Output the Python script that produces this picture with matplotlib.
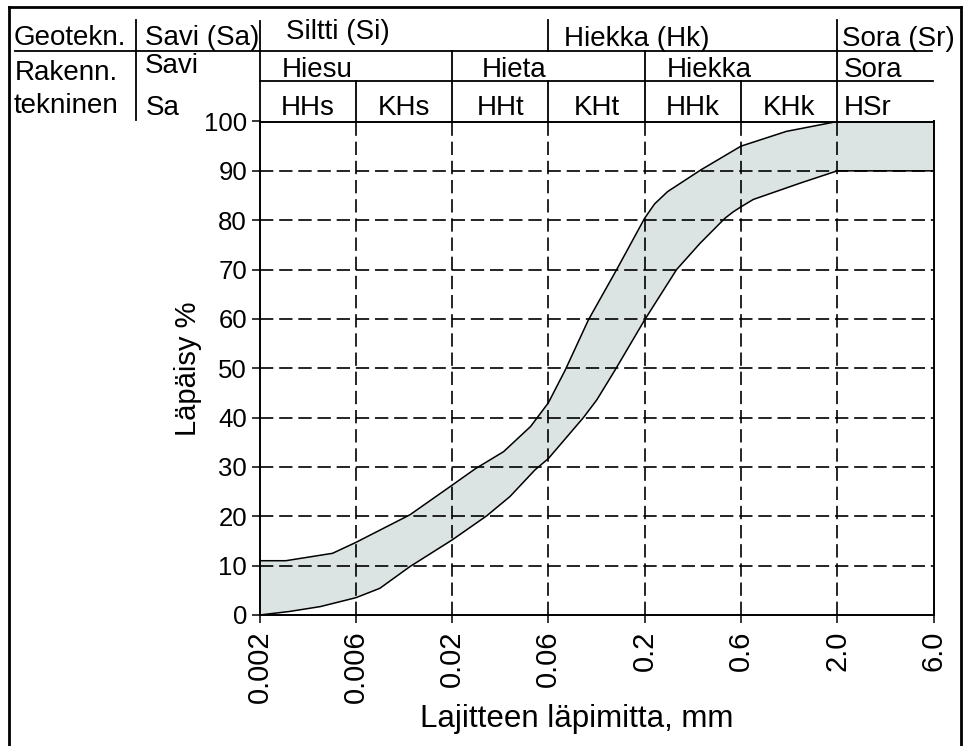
import numpy as np
import matplotlib
matplotlib.use("Agg")
import matplotlib.pyplot as plt
from matplotlib.lines import Line2D
from matplotlib.transforms import blended_transform_factory
from matplotlib.ticker import FixedLocator, NullLocator

plt.rcParams['font.family'] = ['Liberation Sans', 'DejaVu Sans']

# ---- data ----
tick_values = [0.002, 0.006, 0.02, 0.06, 0.2, 0.6, 2.0, 6.0]
tick_labels = ["0.002", "0.006", "0.02", "0.06", "0.2", "0.6", "2.0", "6.0"]
y_ticks = [0, 10, 20, 30, 40, 50, 60, 70, 80, 90, 100]

upper_d = [0.002, 0.0027, 0.0046, 0.006, 0.0118, 0.02, 0.026, 0.036, 0.049, 0.06,
           0.074, 0.099, 0.141, 0.2, 0.224, 0.26, 0.38, 0.6, 1.06, 2.0, 6.0]
upper_p = [11, 11, 12.5, 14.7, 20.3, 26.3, 29.6, 33.1, 38.2, 43,
           49.6, 59.8, 70, 80.4, 83.3, 85.8, 90.2, 95, 98, 100, 100]

lower_d = [0.002, 0.0028, 0.004, 0.006, 0.0081, 0.0118, 0.02, 0.0297, 0.0387, 0.0515,
           0.06, 0.093, 0.11, 0.138, 0.2, 0.288, 0.376, 0.5, 0.55, 0.6, 0.70, 1.256, 2.0, 6.0]
lower_p = [0, 0.7, 1.7, 3.5, 5.4, 9.8, 15.2, 20.1, 24, 29.4,
           31.7, 40, 43.6, 49.6, 59.8, 70, 75.3, 80.4, 81.7, 82.7, 84.2, 87.5, 90, 90]

geo_labels = ["Savi (Sa)", "Siltti (Si)", "Hiekka (Hk)", "Sora (Sr)"]
rak_labels = ["Savi", "Hiesu", "Hieta", "Hiekka", "Sora"]
sub_labels = ["HHs", "KHs", "HHt", "KHt", "HHk", "KHk", "HSr"]

# ---- scale: equally spaced sieve sizes ----
logt = np.log10(tick_values)
idx = np.arange(len(tick_values), dtype=float)

def fwd(d):
    d = np.asarray(d, dtype=float)
    return np.interp(np.log10(np.clip(d, 1e-12, None)), logt, idx)

def inv(i):
    return 10 ** np.interp(np.asarray(i, dtype=float), idx, logt)

W, H = 963, 746
fig = plt.figure(figsize=(W / 100, H / 100), dpi=100)
L, R, T, B = 259.5, 933.5, 121.5, 615
ax = fig.add_axes([L / W, 1 - B / H, (R - L) / W, (B - T) / H])
ax.set_xscale('function', functions=(fwd, inv))
ax.set_xlim(tick_values[0], tick_values[-1])
ax.set_ylim(0, 100)

poly_x = np.concatenate([upper_d, lower_d[::-1]])
poly_y = np.concatenate([upper_p, lower_p[::-1]])
ax.fill(poly_x, poly_y, facecolor='#dce3e3', edgecolor='none', zorder=1)
ax.plot(upper_d, upper_p, color='black', lw=1.1, zorder=3)
ax.plot(lower_d, lower_p, color='black', lw=1.1, zorder=3)
ax.plot([tick_values[-1], tick_values[-1]], [lower_p[-1], upper_p[-1]], color='black', lw=1.2, zorder=3)

ax.xaxis.set_major_locator(FixedLocator(tick_values))
ax.xaxis.set_minor_locator(NullLocator())
ax.set_xticklabels(tick_labels, rotation=90)
ax.set_yticks(y_ticks)
ax.tick_params(axis='both', direction='out', length=6, width=1.1, colors='black')
ax.tick_params(axis='y', pad=3, labelsize=18.5)
ax.tick_params(axis='x', pad=5, labelsize=21)

for v in tick_values[1:-1]:
    ax.axvline(v, color='black', lw=1.2, ls=(0, (8, 3.5)), zorder=2.5)
for v in y_ticks[1:-1]:
    ax.axhline(v, color='black', lw=1.2, ls=(0, (8, 3.5)), zorder=2.5)

for s in ax.spines.values():
    s.set_linewidth(1.4)

ax.set_xlabel("Lajitteen läpimitta, mm", fontsize=22.5)
ax.set_ylabel("Läpäisy %", fontsize=21)
ax.xaxis.set_label_coords(0.47, -0.18)
ax.yaxis.set_label_coords(-0.085, 0.5)

# ---- header table ----
def fy(ypx):
    return 1 - ypx / H

def fx(xpx):
    return xpx / W

bt = blended_transform_factory(ax.transData, fig.transFigure)
ft = fig.transFigure
lw_h = 1.3

def vline_data(d, y0, y1):
    fig.add_artist(Line2D([d, d], [fy(y0), fy(y1)], transform=bt, color='black', lw=lw_h))

# horizontal header lines
fig.add_artist(Line2D([fx(15), fx(932)], [fy(51), fy(51)], transform=ft, color='black', lw=lw_h))
fig.add_artist(Line2D([tick_values[0], inv(6.99)], [fy(81), fy(81)], transform=bt, color='black', lw=lw_h))
# vertical dividers
fig.add_artist(Line2D([fx(136), fx(136)], [fy(20), fy(120)], transform=ft, color='black', lw=lw_h))
vline_data(tick_values[0], 21, T)
vline_data(0.06, 20, 51)
vline_data(2.0, 20, T)
for d in [0.02, 0.2]:
    vline_data(d, 51, T)
for d in [0.006, 0.06, 0.6]:
    vline_data(d, 81, T)

fs_h = 20
# row 1
fig.text(fx(14), fy(45), "Geotekn.", fontsize=fs_h, va='baseline', ha='left')
fig.text(fx(145), fy(45), geo_labels[0], fontsize=fs_h, va='baseline', ha='left')
fig.text(fx(286), fy(39), geo_labels[1], fontsize=fs_h, va='baseline', ha='left')
fig.text(fx(564), fy(46), geo_labels[2], fontsize=fs_h, va='baseline', ha='left')
fig.text(fx(842), fy(46), geo_labels[3], fontsize=fs_h, va='baseline', ha='left')
# row 2
fig.text(fx(15), fy(80), "Rakenn.", fontsize=fs_h, va='baseline', ha='left')
fig.text(fx(145), fy(73), rak_labels[0], fontsize=fs_h, va='baseline', ha='left')
for lab, xp in zip(rak_labels[1:], [282, 482, 667, 844]):
    fig.text(fx(xp), fy(77), lab, fontsize=fs_h, va='baseline', ha='left')
# row 3
fig.text(fx(14), fy(113), "tekninen", fontsize=fs_h, va='baseline', ha='left')
fig.text(fx(146), fy(115), "Sa", fontsize=fs_h, va='baseline', ha='left')
for i, lab in enumerate(sub_labels[:-1]):
    mid = inv(i + 0.5)
    fig.text(mid, fy(115), lab, fontsize=fs_h, va='baseline', ha='center', transform=bt)
fig.text(fx(844), fy(115), sub_labels[-1], fontsize=fs_h, va='baseline', ha='left')

# outer frame
fr_lw = 2.0
fig.add_artist(Line2D([fx(9), fx(961)], [fy(7), fy(7)], transform=ft, color='black', lw=fr_lw))
fig.add_artist(Line2D([fx(9), fx(9)], [fy(7), 0], transform=ft, color='black', lw=fr_lw))
fig.add_artist(Line2D([fx(961), fx(961)], [fy(7), 0], transform=ft, color='black', lw=fr_lw))

fig.savefig("out.png", dpi=100)
